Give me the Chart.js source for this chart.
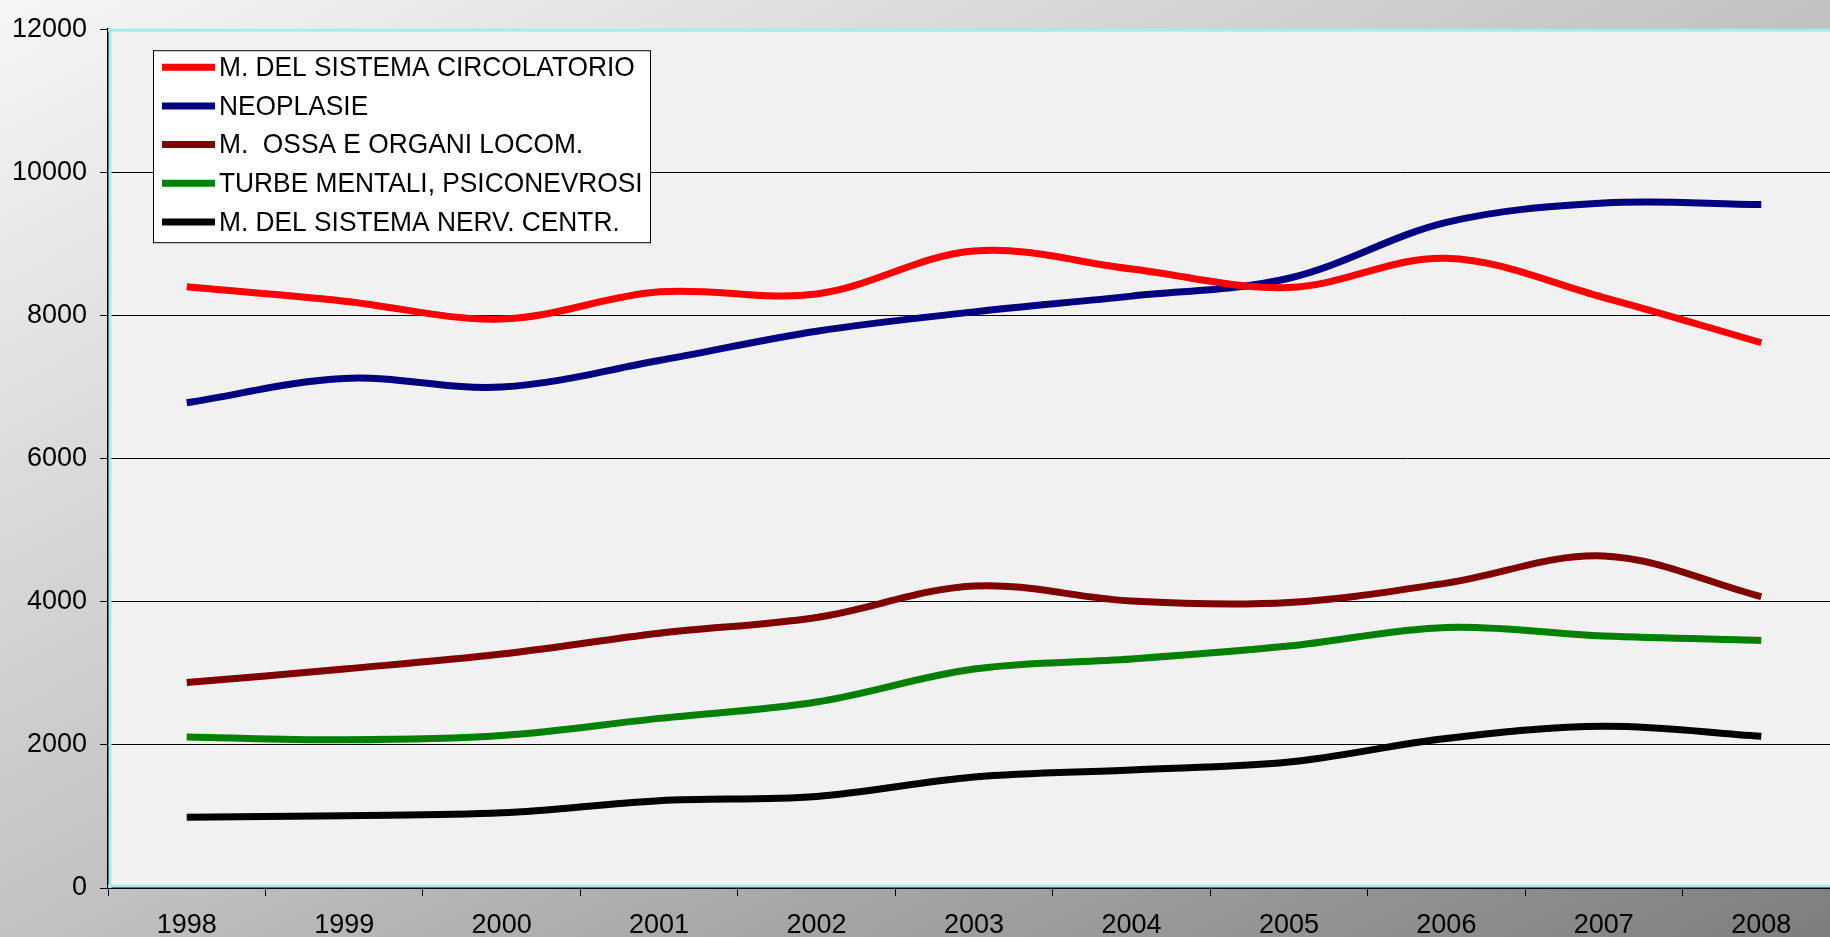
<!DOCTYPE html>
<html>
<head>
<meta charset="utf-8">
<script src="https://cdn.jsdelivr.net/npm/chart.js@4/dist/chart.umd.min.js"></script>
<style>
    html, body { margin: 0; padding: 0; }
    body {
        width: 1830px; height: 937px; overflow: hidden;
        background: linear-gradient(to bottom right, #f6f6f6 0%, #c2c2c2 50%, #7e7e7e 100%);
    }
    #wrap { width: 1830px; height: 937px; overflow: hidden; position: relative; }
</style>
</head>
<body>
<div id="wrap">
    <canvas id="myChart" width="1840" height="937"></canvas>
</div>
<script>
(function () {
    "use strict";

    // data
    const years = ['1998', '1999', '2000', '2001', '2002', '2003', '2004', '2005', '2006', '2007', '2008'];
    const yTicks = [0, 2000, 4000, 6000, 8000, 10000, 12000];

    const circolatorio = [8400, 8200, 7950, 8330, 8300, 8900, 8650, 8390, 8800, 8250, 7620];
    const neoplasie = [6780, 7120, 7000, 7370, 7780, 8050, 8270, 8520, 9300, 9570, 9550];
    const ossa = [2870, 3060, 3270, 3560, 3780, 4220, 4010, 3990, 4260, 4640, 4070];
    const turbe = [2110, 2070, 2130, 2370, 2600, 3060, 3200, 3380, 3640, 3520, 3460];
    const nervoso = [990, 1010, 1050, 1220, 1280, 1550, 1650, 1760, 2090, 2260, 2120];

    const FONT = "'Liberation Sans', Arial, sans-serif";

    /* plot area fill + cyan frame */
    const plotBg = {
        id: 'plotBg',
        beforeDraw(chart) {
            const a = chart.chartArea, c = chart.ctx;
            c.save();
            c.fillStyle = '#f1f1f1';
            c.fillRect(a.left, a.top, a.right - a.left, a.bottom - a.top);
            c.restore();
        },
        beforeDatasetsDraw(chart) {
            const a = chart.chartArea, c = chart.ctx;
            c.save();
            c.strokeStyle = '#a6ecec';
            c.lineWidth = 3;
            c.beginPath();
            c.moveTo(a.left, a.top + 1);
            c.lineTo(a.right, a.top + 1);
            c.moveTo(a.left, a.bottom - 2);
            c.lineTo(a.right, a.bottom - 2);
            c.moveTo(a.left + 2, a.top);
            c.lineTo(a.left + 2, a.bottom);
            c.stroke();
            c.restore();
        }
    };

    /* boxed legend inside the plot, top left */
    const boxLegend = {
        id: 'boxLegend',
        afterDatasetsDraw(chart) {
            const a = chart.chartArea, c = chart.ctx;
            const x = a.left + 45, y = a.top + 21, w = 497, h = 192;
            c.save();
            c.fillStyle = '#ffffff';
            c.fillRect(x, y, w, h);
            c.strokeStyle = '#000000';
            c.lineWidth = 1;
            c.strokeRect(x + 0.5, y + 0.5, w, h);
            c.textBaseline = 'middle';
            chart.data.datasets.forEach(function (ds, i) {
                const cy = y + 17 + i * 38.7;
                c.strokeStyle = ds.borderColor;
                c.lineWidth = 7;
                c.beginPath();
                c.moveTo(x + 9, cy);
                c.lineTo(x + 62, cy);
                c.stroke();
                // the original text is a bit condensed
                c.save();
                c.translate(x + 66, cy + 1);
                c.scale(0.94, 1);
                c.font = '28px ' + FONT;
                c.fillStyle = '#000000';
                c.fillText(ds.label, 0, 0);
                c.restore();
            });
            c.restore();
        }
    };

    function series(label, color, data) {
        return {
            label: label,
            data: data,
            borderColor: color,
            backgroundColor: color,
            borderWidth: 7,
            tension: 0.35,
            pointRadius: 0,
            fill: false
        };
    }

    const ctx = document.getElementById('myChart').getContext('2d');
    new Chart(ctx, {
        type: 'line',
        data: {
            labels: years,
            datasets: [
                series('M. DEL SISTEMA CIRCOLATORIO', '#ff0000', circolatorio),
                series('NEOPLASIE', '#000080', neoplasie),
                series('M.  OSSA E ORGANI LOCOM.', '#800000', ossa),
                series('TURBE MENTALI, PSICONEVROSI', '#008000', turbe),
                series('M. DEL SISTEMA NERV. CENTR.', '#000000', nervoso)
            ]
        },
        options: {
            responsive: false,
            animation: false,
            layout: { padding: { top: 24, right: 0, left: 0, bottom: 0 } },
            plugins: {
                legend: { display: false },
                tooltip: { enabled: false }
            },
            scales: {
                x: {
                    offset: true,
                    afterFit(scale) { scale.height = 49; },
                    grid: { display: true, drawOnChartArea: false, drawTicks: true, tickLength: 8, color: '#000', offset: true },
                    border: { color: '#000', width: 2 },
                    ticks: { color: '#000', font: { family: FONT, size: 27 }, padding: 13, maxRotation: 0 }
                },
                y: {
                    min: 0,
                    max: 12000,
                    afterFit(scale) { scale.width = 108; },
                    afterBuildTicks(scale) { scale.ticks = yTicks.map(v => ({ value: v })); },
                    grid: { color: '#000', lineWidth: 1, tickLength: 8 },
                    border: { color: '#000', width: 2 },
                    ticks: {
                        color: '#000',
                        font: { family: FONT, size: 27 },
                        padding: 13,
                        callback: function (value) { return String(value); }
                    }
                }
            }
        },
        plugins: [plotBg, boxLegend]
    });
})();
</script>
</body>
</html>
